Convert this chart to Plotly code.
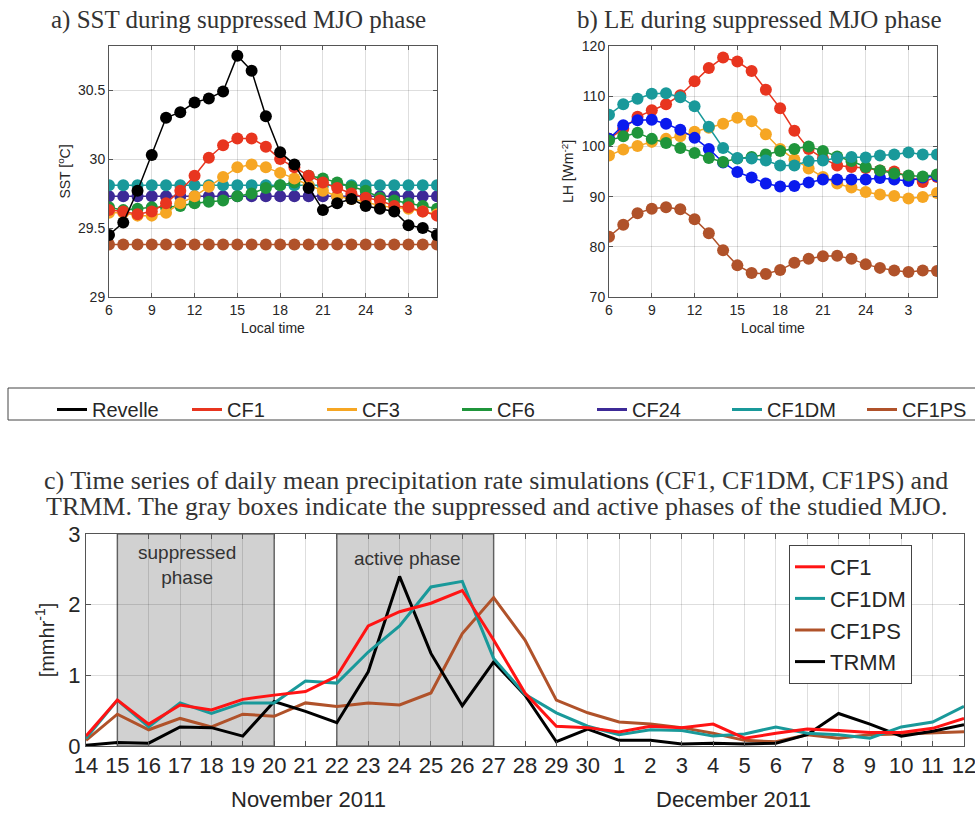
import plotly.graph_objects as go
import pandas as pd

# ---------------- data ----------------
hours = list(range(6, 30))  # local time 6 .. 29 (= 5 am next day)
hour_ticks = [6, 9, 12, 15, 18, 21, 24, 27]
hour_ticktext = ["6", "9", "12", "15", "18", "21", "24", "3"]

sst_revelle = [29.45, 29.54, 29.77, 30.03, 30.30, 30.34, 30.41, 30.44, 30.49, 30.75, 30.64, 30.31,
               30.05, 29.96, 29.79, 29.63, 29.68, 29.71, 29.66, 29.64, 29.62, 29.52, 29.50, 29.45]
sst_cf1 = [29.63, 29.62, 29.60, 29.62, 29.68, 29.77, 29.88, 30.01, 30.10, 30.15, 30.15, 30.09,
           30.00, 29.94, 29.88, 29.83, 29.79, 29.75, 29.72, 29.70, 29.66, 29.65, 29.62, 29.59]
sst_cf3 = [29.61, 29.61, 29.59, 29.59, 29.61, 29.68, 29.73, 29.80, 29.87, 29.94, 29.96, 29.94,
           29.90, 29.86, 29.81, 29.77, 29.73, 29.71, 29.69, 29.66, 29.65, 29.64, 29.62, 29.60]
sst_cf6 = [29.65, 29.63, 29.64, 29.65, 29.65, 29.66, 29.68, 29.69, 29.70, 29.73, 29.75, 29.79,
           29.81, 29.83, 29.88, 29.86, 29.83, 29.80, 29.77, 29.72, 29.70, 29.68, 29.66, 29.64]
sst_cf24 = [29.73] * 24
sst_cf1dm = [29.81] * 24
sst_cf1ps = [29.38] * 24

lh_cf1 = [101.5, 103.5, 105.9, 107.2, 108.4, 110.2, 113.0, 115.6, 117.7, 116.9, 115.0, 111.3,
          107.6, 103.1, 99.5, 97.6, 96.2, 95.9, 95.7, 95.2, 95.0, 94.0, 92.9, 93.9]
lh_cf3 = [98.2, 99.4, 100.1, 100.9, 101.5, 102.0, 102.9, 103.7, 104.5, 105.7, 105.0, 102.4,
          99.5, 97.4, 95.6, 93.9, 92.6, 91.8, 90.9, 90.4, 90.1, 89.6, 89.9, 90.7]
lh_cf6 = [101.2, 102.0, 102.7, 101.5, 100.7, 99.7, 98.7, 97.7, 96.9, 97.6, 97.9, 98.4,
          99.1, 99.5, 100.0, 99.1, 98.0, 97.1, 95.9, 95.2, 94.6, 94.2, 94.0, 94.4]
lh_cf24 = [101.5, 104.2, 105.2, 105.3, 104.5, 103.3, 101.7, 99.5, 96.8, 94.9, 93.8, 92.6,
           92.0, 92.1, 92.8, 93.4, 93.4, 93.4, 93.4, 93.7, 93.4, 93.1, 93.8, 94.1]
lh_cf1dm = [106.3, 108.4, 109.5, 110.5, 110.6, 109.8, 108.0, 103.9, 99.7, 97.7, 97.6, 97.2,
            96.2, 96.2, 97.1, 97.2, 97.7, 97.9, 97.8, 98.2, 98.4, 98.8, 98.4, 98.4]
lh_cf1ps = [82.0, 84.4, 86.7, 87.6, 87.9, 87.5, 85.5, 82.7, 79.3, 76.3, 74.8, 74.6,
            75.4, 76.8, 77.6, 78.1, 78.2, 77.6, 76.5, 75.8, 75.3, 75.0, 75.3, 75.2]

days = pd.date_range("2011-11-14", "2011-12-12", freq="D")
pr_cf1 = [0.14, 0.65, 0.31, 0.58, 0.51, 0.66, 0.72, 0.77, 0.99, 1.70, 1.90, 2.02, 2.20, 1.50,
          0.75, 0.28, 0.26, 0.20, 0.28, 0.26, 0.31, 0.11, 0.18, 0.24, 0.22, 0.19, 0.19, 0.25, 0.39]
pr_cf1dm = [0.11, 0.65, 0.27, 0.61, 0.46, 0.61, 0.61, 0.92, 0.89, 1.33, 1.70, 2.25, 2.33, 1.24,
            0.73, 0.47, 0.28, 0.16, 0.23, 0.22, 0.14, 0.17, 0.27, 0.18, 0.16, 0.11, 0.27, 0.34, 0.56]
pr_cf1ps = [0.08, 0.45, 0.23, 0.39, 0.27, 0.45, 0.42, 0.61, 0.56, 0.61, 0.58, 0.75, 1.59, 2.10,
            1.50, 0.65, 0.47, 0.34, 0.31, 0.26, 0.18, 0.08, 0.06, 0.16, 0.11, 0.16, 0.17, 0.18, 0.20]
pr_trmm = [0.01, 0.05, 0.04, 0.27, 0.26, 0.14, 0.63, 0.49, 0.33, 1.05, 2.40, 1.31, 0.57, 1.19,
           0.72, 0.06, 0.24, 0.08, 0.08, 0.03, 0.04, 0.03, 0.04, 0.16, 0.46, 0.31, 0.14, 0.21, 0.30]

phases = [("2011-11-15", "2011-11-20"), ("2011-11-22", "2011-11-27")]

# ---------------- style ----------------
C_REV = "#000000"
C_CF1 = "#e8351f"
C_CF3 = "#f6a623"
C_CF6 = "#1f953b"
C_CF24 = "#3d2a97"
C_CF24B = "#0a1aee"
C_CF1DM = "#19999a"
C_CF1PS = "#b0522a"
C_RED_C = "#ff1414"

W, H = 975, 815
def px(xp):
    return xp / W
def py(yp):
    return 1 - yp / H

FONT = "Arial, Liberation Sans, sans-serif"
SERIF = "Liberation Serif, Times New Roman, serif"
AX = "#555555"
TXT = "#262626"

fig = go.Figure()

def ab_trace(y, color, xa, ya):
    fig.add_trace(go.Scatter(x=hours, y=y, mode="lines+markers",
                             line=dict(color=color, width=1.5),
                             marker=dict(size=12, color=color),
                             showlegend=False, xaxis=xa, yaxis=ya, hoverinfo="skip"))

# panel a
for y, c in [(sst_cf1ps, C_CF1PS), (sst_cf24, C_CF24), (sst_cf1dm, C_CF1DM), (sst_cf6, C_CF6),
             (sst_cf3, C_CF3), (sst_cf1, C_CF1), (sst_revelle, C_REV)]:
    ab_trace(y, c, "x", "y")
# panel b
for y, c in [(lh_cf1ps, C_CF1PS), (lh_cf3, C_CF3), (lh_cf1, C_CF1), (lh_cf24, C_CF24B),
             (lh_cf6, C_CF6), (lh_cf1dm, C_CF1DM)]:
    ab_trace(y, c, "x2", "y2")

# top legend (legend-only entries)
for i, (name, c) in enumerate([("Revelle", C_REV), ("CF1", C_CF1), ("CF3", C_CF3), ("CF6", C_CF6),
                               ("CF24", C_CF24), ("CF1DM", C_CF1DM), ("CF1PS", C_CF1PS)]):
    fig.add_trace(go.Scatter(x=[None], y=[None], mode="lines", name=name,
                             line=dict(color=c, width=3), legend="legend",
                             legendrank=i + 1, xaxis="x", yaxis="y"))

# panel c
for name, y, c, rank in [("CF1PS", pr_cf1ps, C_CF1PS, 3), ("TRMM", pr_trmm, C_REV, 4),
                         ("CF1DM", pr_cf1dm, C_CF1DM, 2), ("CF1", pr_cf1, C_RED_C, 1)]:
    fig.add_trace(go.Scatter(x=days, y=y, mode="lines", name=name,
                             line=dict(color=c, width=3), legend="legend2",
                             legendrank=rank, xaxis="x3", yaxis="y3", hoverinfo="skip"))

# phase boxes
for x0, x1 in phases:
    fig.add_shape(type="rect", xref="x3", yref="y3", x0=x0, x1=x1, y0=0, y1=3,
                  fillcolor="#d1d1d1", line=dict(color="#6f6f6f", width=1.5), layer="below")

def axis(domain, anchor, **kw):
    d = dict(domain=domain, anchor=anchor, showline=True, linecolor=AX, linewidth=1,
             mirror="ticks", ticks="inside", ticklen=4, tickcolor=AX,
             showgrid=True, gridcolor="rgba(0,0,0,0.13)", gridwidth=1, zeroline=False,
             automargin=False,
             tickfont=dict(family=FONT, size=14, color=TXT))
    d.update(kw)
    return d

xa_dom = [px(109), px(437)]
xb_dom = [px(609), px(937)]
yab_dom = [py(297), py(46)]

fig.update_layout(
    width=W, height=H, margin=dict(l=0, r=0, t=0, b=0, autoexpand=False),
    paper_bgcolor="white", plot_bgcolor="white",
    xaxis=axis(xa_dom, "y", range=[6, 29], tickvals=hour_ticks, ticktext=hour_ticktext,
               title=dict(text="Local time", font=dict(family=FONT, size=14, color=TXT), standoff=6)),
    yaxis=axis(yab_dom, "x", range=[29, 30.82], tickvals=[29, 29.5, 30, 30.5],
               ticktext=["29", "29.5", "30", "30.5"],
               title=dict(text="SST [<sup>o</sup>C]", font=dict(family=FONT, size=14, color=TXT), standoff=4)),
    xaxis2=axis(xb_dom, "y2", range=[6, 29], tickvals=hour_ticks, ticktext=hour_ticktext,
                title=dict(text="Local time", font=dict(family=FONT, size=14, color=TXT), standoff=6)),
    yaxis2=axis(yab_dom, "x2", range=[70, 120], dtick=10,
                title=dict(text="LH [Wm<sup>-2</sup>]", font=dict(family=FONT, size=14, color=TXT), standoff=4)),
    xaxis3=axis([px(86), px(964)], "y3", type="date", range=["2011-11-14", "2011-12-12"],
                dtick=86400000, tickformat="%-d", tick0="2011-11-14", ticklabeloverflow="allow",
                tickfont=dict(family=FONT, size=22, color=TXT), ticklen=5),
    yaxis3=axis([py(746), py(534)], "x3", range=[0, 3], dtick=1,
                tickfont=dict(family=FONT, size=22, color=TXT), ticklen=5,
                title=dict(text="[mmhr<sup>-1</sup>]", font=dict(family=FONT, size=20, color=TXT), standoff=8)),
    legend=dict(orientation="h", x=px(52), xanchor="left", y=py(390), yanchor="top",
                font=dict(family=FONT, size=20, color=TXT), entrywidth=90, entrywidthmode="pixels",
                bgcolor="rgba(0,0,0,0)", borderwidth=0),
    legend2=dict(x=px(789), xanchor="left", y=py(545), yanchor="top",
                 font=dict(family=FONT, size=22, color=TXT), bgcolor="white",
                 bordercolor="#444", borderwidth=1, tracegroupgap=0),
)

# box around top legend
fig.add_shape(type="rect", xref="paper", yref="paper", x0=px(8), x1=1.02, y0=py(420), y1=py(388),
              line=dict(color="#444", width=1), fillcolor="rgba(0,0,0,0)")

def note(text, x, y, size, family=FONT, xanchor="center", xref="paper", yref="paper", color=TXT):
    return dict(text=text, x=x, y=y, xref=xref, yref=yref, xanchor=xanchor, yanchor="middle",
                showarrow=False, font=dict(family=family, size=size, color=color))

ann = [
    note("a) SST during suppressed MJO phase", px(238), py(20), 25, SERIF, color="#333"),
    note("b) LE during suppressed MJO phase", px(759), py(20), 25, SERIF, color="#333"),
    note("c) Time series of daily mean precipitation rate simulations (CF1, CF1DM, CF1PS) and",
         px(42), py(480), 26, SERIF, xanchor="left", color="#333"),
    note("TRMM. The gray boxes indicate the suppressed and active phases of the studied MJO.",
         px(44), py(506), 26, SERIF, xanchor="left", color="#333"),
    note("suppressed<br>phase", "2011-11-17 05:00", 2.56, 19, xref="x3", yref="y3", color="#333"),
    note("active phase", "2011-11-24 06:00", 2.66, 19, xref="x3", yref="y3", color="#333"),
    note("November 2011", px(308), py(799), 22),
    note("December 2011", px(733), py(799), 22),
]
fig.update_layout(annotations=ann)

fig.write_html("out.html")
